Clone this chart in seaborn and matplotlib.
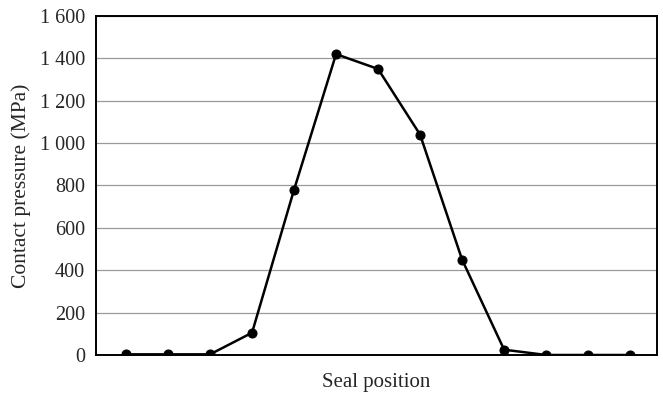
import numpy as np
import pandas as pd
import seaborn as sns
import matplotlib.pyplot as plt
from matplotlib.ticker import FuncFormatter

# Dados
positions = list(range(1, 14))
pressure = [3, 3, 3, 105, 780, 1420, 1350, 1040, 450, 25, 0, 0, 0]
y_ticks = [0, 200, 400, 600, 800, 1000, 1200, 1400, 1600]

df = pd.DataFrame({'pos': positions, 'pressure': pressure})

sns.set_style('white')
plt.rcParams['font.family'] = ['Liberation Serif', 'DejaVu Serif']

fig = plt.figure(figsize=(6.63, 3.95), dpi=100)
ax = fig.add_axes([0.1448, 0.1013, 0.8462, 0.8582])

ax.set_yticks(y_ticks)
ax.yaxis.grid(True, color='#9a9a9a', linewidth=0.9)
ax.set_axisbelow(True)

sns.lineplot(data=df, x='pos', y='pressure', ax=ax, color='black', linewidth=1.8,
             marker='o', markersize=6.5, markeredgecolor='black')

ax.set_xlim(0.286, 13.64)
ax.set_ylim(0, 1600)
ax.set_xticks([])
ax.yaxis.set_major_formatter(FuncFormatter(lambda v, p: f'{int(v):,}'.replace(',', ' ')))
ax.tick_params(axis='y', length=0, labelsize=14.5, pad=8)

for s in ax.spines.values():
    s.set_color('black')
    s.set_linewidth(1.4)

ax.set_xlabel('Seal position', fontsize=15, labelpad=13)
ax.set_ylabel('Contact pressure (MPa)', fontsize=15.5, labelpad=6)

fig.savefig('out.png', dpi=100)
